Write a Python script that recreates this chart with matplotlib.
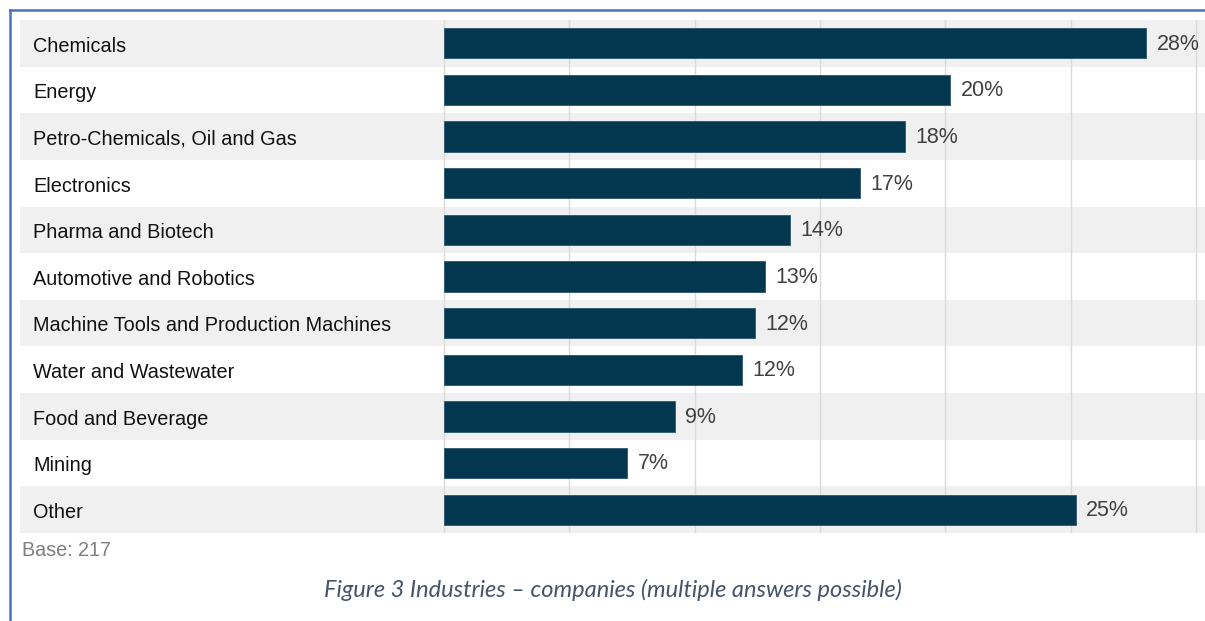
"""
Industries - companies, horizontal bar chart (multiple answers possible).
"""
import matplotlib
matplotlib.use("Agg")
import matplotlib.pyplot as plt
from matplotlib.lines import Line2D
import matplotlib.transforms as mtransforms

# Data
industries = [
    "Chemicals",
    "Energy",
    "Petro-Chemicals, Oil and Gas",
    "Electronics",
    "Pharma and Biotech",
    "Automotive and Robotics",
    "Machine Tools and Production Machines",
    "Water and Wastewater",
    "Food and Beverage",
    "Mining",
    "Other",
]
shares = [28.0, 20.2, 18.4, 16.6, 13.8, 12.8, 12.4, 11.9, 9.2, 7.3, 25.2]
share_labels = ["28%", "20%", "18%", "17%", "14%", "13%", "12%", "12%", "9%", "7%", "25%"]
grid_ticks = [0, 5, 10, 15, 20, 25, 30]
base_note = "Base: 217"
caption = "Figure 3 Industries \u2013 companies (multiple answers possible)"

BAR_COLOR = "#02374f"
STRIPE = "#f0f0f0"
GRID = "#dadada"
FRAME = "#4a72b8"

plt.rcParams["font.family"] = ["Liberation Sans", "DejaVu Sans"]

W, H = 1205, 621
fig = plt.figure(figsize=(W / 100, H / 100), dpi=100)

# plot area: x from 20px to right edge, y from 20px to 533px
ax = fig.add_axes([20 / W, 1 - 533 / H, 1 - 20 / W, (533 - 20) / H])
px_per_unit = 25.07
ax.set_xlim(-(444 - 20) / px_per_unit, (W - 444) / px_per_unit)
ax.set_ylim(len(industries) - 0.5, -0.5)
ax.axis("off")

# striped rows
for i in range(len(industries)):
    if i % 2 == 0:
        ax.axhspan(i - 0.5, i + 0.5, color=STRIPE, lw=0, zorder=0)

# vertical gridlines
for t in grid_ticks:
    ax.axvline(t, color=GRID, lw=1, zorder=1)

ypos = list(range(len(industries)))
ax.barh(ypos, shares, height=0.65, color=BAR_COLOR, edgecolor="#2b5870",
        linewidth=0.6, zorder=2)

# category names on the left, value labels at bar ends
trans = mtransforms.blended_transform_factory(ax.transAxes, ax.transData)
for y, name in zip(ypos, industries):
    ax.text(13 / (W - 20), y + 0.06, name, transform=trans, ha="left", va="center",
            fontsize=14.3, color="#111111", zorder=3)
for y, v, lab in zip(ypos, shares, share_labels):
    ax.text(v + 0.42, y + 0.02, lab, ha="left", va="center", fontsize=15.5,
            color="#404040", zorder=3)

fig.text(22 / W, 1 - 551 / H, base_note, ha="left", va="center",
         fontsize=14.2, color="#7f7f7f")
fig.text(613 / W, 1 - 590 / H, caption, ha="center", va="center",
         fontsize=17, color="#44546a", style="italic", family=["Lato", "DejaVu Sans"])

# blue frame lines (top and left)
fig.add_artist(Line2D([10 / W, 1], [1 - 10 / H, 1 - 10 / H], color=FRAME, lw=1.8,
                      transform=fig.transFigure))
fig.add_artist(Line2D([10 / W, 10 / W], [0, 1 - 10 / H], color=FRAME, lw=1.8,
                      transform=fig.transFigure))

fig.savefig("out.png", dpi=100)
